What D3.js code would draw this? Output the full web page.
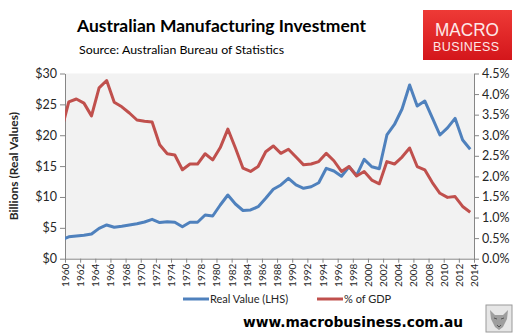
<!DOCTYPE html>
<html><head><meta charset="utf-8">
<script src="https://cdn.jsdelivr.net/npm/d3@7"></script>
<style>body{margin:0;background:#fff;} svg{display:block;}</style>
</head><body>
<svg id="c" width="520" height="335"></svg>
<script>
// ---- data ----
const years = [1959,1960,1961,1962,1963,1964,1965,1966,1967,1968,1969,1970,1971,1972,1973,1974,1975,1976,1977,1978,1979,
  1980,1981,1982,1983,1984,1985,1986,1987,1988,1989,1990,1991,1992,1993,1994,1995,1996,1997,1998,1999,
  2000,2001,2002,2003,2004,2005,2006,2007,2008,2009,2010,2011,2012,2013];
const realValue = [3.06,3.55,3.68,3.79,4.00,4.92,5.46,5.09,5.25,5.46,5.65,5.95,6.38,5.86,5.99,5.90,5.18,5.90,5.90,7.08,6.92,
  8.70,10.32,8.86,7.81,7.89,8.42,9.78,11.24,11.94,13.02,11.94,11.40,11.66,12.31,14.64,14.21,13.35,14.90,13.48,16.10,
  14.90,14.58,20.04,21.74,24.25,28.14,24.74,25.55,22.80,20.04,21.20,22.74,19.23,17.72];
const pctGDP = [3.10,3.81,3.88,3.78,3.47,4.15,4.33,3.80,3.69,3.54,3.37,3.34,3.32,2.77,2.55,2.52,2.16,2.30,2.30,2.55,2.40,
  2.70,3.15,2.69,2.20,2.12,2.24,2.60,2.74,2.56,2.66,2.47,2.28,2.30,2.36,2.56,2.38,2.12,2.24,2.01,2.12,
  1.91,1.82,2.36,2.30,2.47,2.69,2.24,2.16,1.85,1.59,1.49,1.51,1.27,1.13];
const leftTicks = [0,5,10,15,20,25,30];
const rightTicks = [0,0.5,1,1.5,2,2.5,3,3.5,4,4.5];
const xTickYears = [1960,1962,1964,1966,1968,1970,1972,1974,1976,1978,1980,1982,1984,1986,1988,1990,
  1992,1994,1996,1998,2000,2002,2004,2006,2008,2010,2012,2014];
const seriesNames = ["Real Value (LHS)", "% of GDP"];
const titleText = "Australian Manufacturing Investment";
const subtitleText = "Source: Australian Bureau of Statistics";
const yTitle = "Billions (Real Values)";
const siteText = "www.macrobusiness.com.au";

// ---- layout ----
const svg = d3.select("#c");
const P = {l:65, r:474, t:73.5, b:258.7};
const BLUE = "#4f81bd", RED = "#c0504d", AX = "#868686", TXT = "#262626";
const FONT = "Lato, 'Open Sans', sans-serif";

const x = d3.scaleLinear().domain([1960, 2014]).range([P.l, P.r]);
const yL = d3.scaleLinear().domain([0, 30]).range([P.b, P.t]);
const yR = d3.scaleLinear().domain([0, 4.5]).range([P.b, P.t]);

// plot background
svg.append("rect").attr("x", P.l).attr("y", P.t).attr("width", P.r - P.l).attr("height", P.b - P.t).attr("fill", "#f2f2f2");

// clip
svg.append("defs").append("clipPath").attr("id", "clip")
  .append("rect").attr("x", P.l).attr("y", P.t - 5).attr("width", P.r - P.l).attr("height", P.b - P.t + 10);

// axes
const gL = svg.append("g").attr("transform", `translate(${P.l},0)`)
  .call(d3.axisLeft(yL).tickValues(leftTicks).tickFormat(d => "$" + d).tickSize(5).tickSizeOuter(0).tickPadding(3));
const gR = svg.append("g").attr("transform", `translate(${P.r},0)`)
  .call(d3.axisRight(yR).tickValues(rightTicks).tickFormat(d3.format(".1%")).tickSize(5).tickSizeOuter(0).tickPadding(3));
// percent format: values are already in percent
gR.selectAll(".tick text").text(d => d.toFixed(1) + "%");
const gB = svg.append("g").attr("transform", `translate(0,${P.b})`)
  .call(d3.axisBottom(x).tickValues(xTickYears).tickFormat(d => String(d)).tickSize(4).tickSizeOuter(0).tickPadding(3));
gB.selectAll(".tick text")
  .attr("transform", "rotate(-90)")
  .attr("text-anchor", "end")
  .attr("x", -5).attr("y", 0).attr("dy", "0.35em")
  .style("font-size", "10px");

[gL, gR, gB].forEach(g => {
  g.select(".domain").attr("stroke", AX);
  g.selectAll(".tick line").attr("stroke", AX);
  g.selectAll(".tick text").attr("fill", TXT).style("font-family", FONT);
});
gL.selectAll(".tick text").style("font-size", "12.5px");
gR.selectAll(".tick text").style("font-size", "12.5px");

// lines
const lineL = d3.line().x((d, i) => x(years[i] + 0.5)).y(d => yL(d));
const lineR = d3.line().x((d, i) => x(years[i] + 0.5)).y(d => yR(d));
const gLines = svg.append("g").attr("clip-path", "url(#clip)");
gLines.append("path").datum(realValue).attr("d", lineL).attr("fill", "none")
  .attr("stroke", BLUE).attr("stroke-width", 3).attr("stroke-linejoin", "round");
gLines.append("path").datum(pctGDP).attr("d", lineR).attr("fill", "none")
  .attr("stroke", RED).attr("stroke-width", 3).attr("stroke-linejoin", "round");

// y title
svg.append("text").attr("transform", "rotate(-90)")
  .attr("x", -(P.t + P.b) / 2).attr("y", 18).attr("text-anchor", "middle")
  .style("font-family", FONT).style("font-weight", "bold").style("font-size", "12px")
  .attr("fill", TXT).text(yTitle);

// title + subtitle
svg.append("text").attr("x", 77).attr("y", 31.5)
  .style("font-family", FONT).style("font-weight", "bold").style("font-size", "17px")
  .attr("fill", "#000").attr("textLength", 289).attr("lengthAdjust", "spacingAndGlyphs").text(titleText);
svg.append("text").attr("x", 79).attr("y", 54)
  .style("font-family", FONT).style("font-size", "12px")
  .attr("fill", "#000").attr("textLength", 205).attr("lengthAdjust", "spacingAndGlyphs").text(subtitleText);

// logo
const grad = svg.select("defs").append("linearGradient").attr("id", "lg").attr("x1", 0).attr("y1", 0).attr("x2", 0).attr("y2", 1);
grad.append("stop").attr("offset", "0%").attr("stop-color", "#ee3a36");
grad.append("stop").attr("offset", "100%").attr("stop-color", "#d4161b");
svg.append("rect").attr("x", 423).attr("y", 10).attr("width", 89).attr("height", 50).attr("fill", "url(#lg)");
svg.append("text").attr("x", 467).attr("y", 36).attr("text-anchor", "middle")
  .style("font-family", "'Liberation Sans', Arial, sans-serif").style("font-size", "19px")
  .attr("fill", "#fde8e8").attr("textLength", 64).attr("lengthAdjust", "spacingAndGlyphs").text("MACRO");
svg.append("text").attr("x", 466).attr("y", 51).attr("text-anchor", "middle")
  .style("font-family", "'Liberation Sans', Arial, sans-serif").style("font-size", "12.5px")
  .attr("fill", "#fde8e8").attr("textLength", 66).attr("lengthAdjust", "spacing").text("BUSINESS");

// legend
const legend = [{name: seriesNames[0], color: BLUE, x: 183}, {name: seriesNames[1], color: RED, x: 317}];
legend.forEach(l => {
  svg.append("line").attr("x1", l.x).attr("x2", l.x + 26).attr("y1", 299).attr("y2", 299)
    .attr("stroke", l.color).attr("stroke-width", 3);
  svg.append("text").attr("x", l.x + 27).attr("y", 299).attr("dy", "0.35em")
    .style("font-family", FONT).style("font-size", "11px").attr("fill", TXT).text(l.name);
});

// website
svg.append("text").attr("x", 243).attr("y", 326.5)
  .style("font-family", "'DejaVu Sans', Verdana, sans-serif").style("font-weight", "bold").style("font-size", "14px")
  .attr("fill", "#000").attr("textLength", 220).attr("lengthAdjust", "spacingAndGlyphs").text(siteText);

// wolf icon (stylised)
const icon = svg.append("g").attr("transform", "translate(486,305)");
icon.append("rect").attr("width", 26).attr("height", 27).attr("fill", "#e6e6e6").attr("stroke", "#9a9a9a");
icon.append("path").attr("d", "M4,5 L9,10 L17,10 L22,5 L21,14 L17,22 L13,25 L9,22 L5,14 Z").attr("fill", "#9e9e9e");
icon.append("path").attr("d", "M8,13 L11,14 M15,14 L18,13 M11,20 L13,22 L15,20").attr("stroke", "#555").attr("fill", "none");
</script>
</body></html>
